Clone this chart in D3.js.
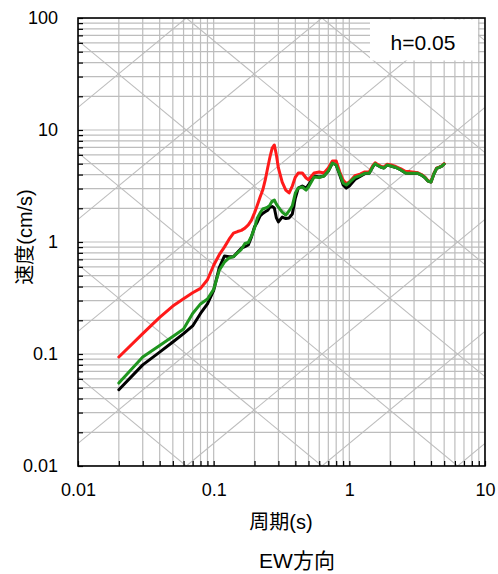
<!DOCTYPE html>
<html>
<head>
<meta charset="utf-8">
<script src="https://cdn.jsdelivr.net/npm/d3@7"></script>
<style>
  html, body { margin: 0; padding: 0; background: #fff; }
  svg { display: block; }
  text { font-family: "Liberation Sans", Arial, "Noto Sans CJK JP", sans-serif; fill: #000; }
</style>
</head>
<body>
<svg id="chart" width="498" height="574"></svg>
<script>
// ---- data (period in s, velocity response in cm/s) ----
const periods = [0.02,0.03,0.04,0.05,0.06,0.07,0.08,0.09,0.10,0.11,0.12,0.13,0.14,0.15,0.16,0.17,0.18,0.19,0.20,0.21,0.22,0.23,0.24,0.25,0.26,0.27,0.28,0.29,0.30,0.32,0.34,0.36,0.38,0.40,0.42,0.45,0.48,0.50,0.55,0.60,0.65,0.70,0.75,0.80,0.85,0.90,0.95,1.0,1.1,1.2,1.3,1.4,1.5,1.55,1.6,1.7,1.8,1.9,2.0,2.2,2.4,2.6,2.8,3.0,3.2,3.4,3.6,3.8,4.0,4.2,4.4,4.6,4.8,5.0];
const velBlack = [0.048,0.080,0.104,0.128,0.152,0.178,0.23,0.28,0.37,0.59,0.75,0.74,0.74,0.81,0.88,0.91,0.94,1.11,1.36,1.51,1.71,1.80,1.86,1.92,2.05,2.07,2.01,1.64,1.51,1.67,1.62,1.64,1.78,2.47,3.03,3.16,3.03,3.23,3.88,3.80,3.88,4.31,5.07,4.87,3.96,3.23,3.03,3.16,3.62,3.85,4.08,4.1,4.76,5.0,4.87,4.67,4.58,4.87,4.8,4.63,4.40,4.13,4.1,4.1,4.1,3.96,3.77,3.5,3.43,4.05,4.54,4.63,4.75,4.97];
const velRed   = [0.094,0.152,0.212,0.268,0.312,0.352,0.385,0.46,0.62,0.77,0.90,1.06,1.20,1.24,1.27,1.33,1.42,1.57,1.82,2.14,2.52,2.91,3.58,4.58,5.74,6.9,7.35,5.98,4.58,3.43,2.91,2.74,3.16,3.80,4.13,4.13,3.73,3.6,4.13,4.22,4.13,4.58,5.29,5.29,4.22,3.58,3.32,3.43,3.90,4.03,4.22,4.22,4.86,5.1,4.97,4.76,4.66,4.95,4.9,4.72,4.50,4.25,4.25,4.2,4.15,4.0,3.8,3.52,3.45,4.08,4.56,4.66,4.78,5.0];
const velGreen = [0.055,0.094,0.119,0.143,0.167,0.23,0.28,0.31,0.378,0.56,0.66,0.72,0.74,0.80,0.86,0.97,0.99,1.13,1.33,1.64,1.82,1.97,2.01,2.05,2.14,2.32,2.37,2.18,2.05,1.85,1.74,1.90,2.10,2.74,3.03,3.10,2.91,3.10,3.80,3.77,3.88,4.31,5.07,4.87,4.05,3.36,3.23,3.40,3.77,3.92,4.1,4.1,4.76,5.0,4.87,4.67,4.58,4.87,4.8,4.63,4.40,4.13,4.1,4.1,4.1,3.96,3.77,3.5,3.43,4.05,4.54,4.63,4.75,4.97];
const xTickLabels = ["0.01","0.1","1","10"];
const yTickLabels = ["0.01","0.1","1","10","100"];
const dampingLabel = "h=0.05";

// ---- layout ----
const svg = d3.select("#chart");
const L = 78, R = 485, T = 18, B = 466;
const x = d3.scaleLog().domain([0.01, 10]).range([L, R]);
const y = d3.scaleLog().domain([0.01, 100]).range([B, T]);

const minorVals = (lo, hi) => {
  const out = [];
  for (let e = Math.log10(lo); e < Math.log10(hi); e++)
    for (let m = 1; m <= 9; m++) out.push(+(m * Math.pow(10, e)).toPrecision(3));
  out.push(hi);
  return out;
};
const xGridVals = minorVals(0.01, 10);
const yGridVals = minorVals(0.01, 100);
const gridColor = "#bdbdbd";

svg.append("defs").append("clipPath").attr("id", "clip")
  .append("rect").attr("x", L).attr("y", T).attr("width", R - L).attr("height", B - T);

const grid = svg.append("g").attr("clip-path", "url(#clip)");
grid.selectAll("line.v").data(xGridVals).join("line")
  .attr("x1", d => x(d)).attr("x2", d => x(d)).attr("y1", T).attr("y2", B)
  .attr("stroke", gridColor).attr("stroke-width", 1.2);
grid.selectAll("line.h").data(yGridVals).join("line")
  .attr("y1", d => y(d)).attr("y2", d => y(d)).attr("x1", L).attr("x2", R)
  .attr("stroke", gridColor).attr("stroke-width", 1.2);

// tripartite diagonals: constant acceleration and constant displacement
const twoPi = 2 * Math.PI;
const accExps = d3.range(-2, 5);
const dispExps = d3.range(-4, 3);
const diag = [];
accExps.forEach(k => diag.push([[0.01, Math.pow(10, k) * 0.01 / twoPi], [10, Math.pow(10, k) * 10 / twoPi]]));
dispExps.forEach(k => diag.push([[0.01, twoPi * Math.pow(10, k) / 0.01], [10, twoPi * Math.pow(10, k) / 10]]));
grid.selectAll("line.d").data(diag).join("line")
  .attr("x1", d => x(d[0][0])).attr("y1", d => y(d[0][1]))
  .attr("x2", d => x(d[1][0])).attr("y2", d => y(d[1][1]))
  .attr("stroke", gridColor).attr("stroke-width", 1.1);

// legend box
svg.append("rect").attr("x", 370).attr("y", 19.5).attr("width", 108).attr("height", 41).attr("fill", "#fff");
svg.append("text").attr("x", 423).attr("y", 50).attr("text-anchor", "middle")
  .attr("font-size", 21).text(dampingLabel);

// curves
const line = d3.line().x(d => x(d[0])).y(d => y(d[1])).curve(d3.curveLinear);
const series = [
  { vals: velBlack, color: "#000000" },
  { vals: velRed, color: "#ff1a1a" },
  { vals: velGreen, color: "#1f961f" }
];
const curves = svg.append("g").attr("clip-path", "url(#clip)");
series.forEach(s => {
  curves.append("path").datum(periods.map((p, i) => [p, s.vals[i]]))
    .attr("d", line).attr("fill", "none").attr("stroke", s.color)
    .attr("stroke-width", 3).attr("stroke-linejoin", "round").attr("stroke-linecap", "round");
});

// axes
const fmtX = d => { const i = [0.01, 0.1, 1, 10].indexOf(d); return i >= 0 ? xTickLabels[i] : ""; };
const fmtY = d => { const i = [0.01, 0.1, 1, 10, 100].indexOf(d); return i >= 0 ? yTickLabels[i] : ""; };

const ax = svg.append("g").attr("transform", `translate(0,${B})`)
  .call(d3.axisBottom(x).tickValues(xGridVals).tickFormat(fmtX).tickSizeInner(-5).tickSizeOuter(0).tickPadding(17));
const ay = svg.append("g").attr("transform", `translate(${L},0)`)
  .call(d3.axisLeft(y).tickValues(yGridVals).tickFormat(fmtY).tickSizeInner(-5).tickSizeOuter(0).tickPadding(20));
[ax, ay].forEach(g => {
  g.select(".domain").remove();
  g.selectAll(".tick line").attr("stroke", "#000").attr("stroke-width", 1.2);
  g.selectAll(".tick text").attr("font-size", 18).attr("fill", "#000")
    .style("font-family", '"Liberation Sans", Arial, sans-serif');
});

// frame
svg.append("rect").attr("x", L).attr("y", T).attr("width", R - L).attr("height", B - T)
  .attr("fill", "none").attr("stroke", "#000").attr("stroke-width", 1.6);

// titles
svg.append("text").attr("x", 281).attr("y", 529).attr("text-anchor", "middle")
  .attr("font-size", 20).text("周期(s)");
svg.append("text").attr("transform", "translate(32,237) rotate(-90)").attr("text-anchor", "middle")
  .attr("font-size", 20).text("速度(cm/s)");
svg.append("text").attr("x", 297).attr("y", 568).attr("text-anchor", "middle")
  .attr("font-size", 21).text("EW方向");
</script>
</body>
</html>
